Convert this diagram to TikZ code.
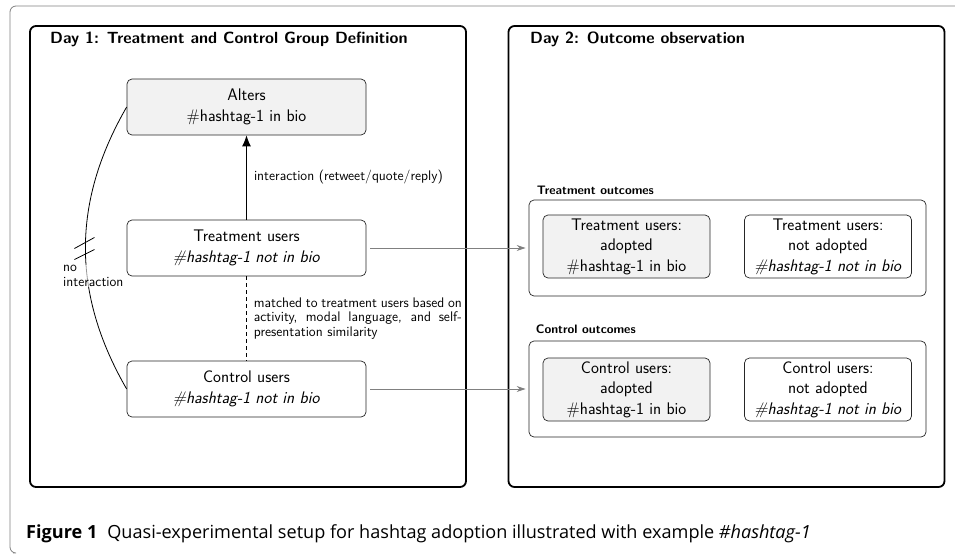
\documentclass[tikz,border=0pt]{standalone}
\usepackage{fontspec}
\newfontfamily\capfont{Open Sans}
\usetikzlibrary{positioning, arrows.meta}
\tikzset{
x=1pt, y=1pt, % one unit is one point
>={Stealth[length=9pt,width=6pt]}, % arrow heads of the grey links
node distance=141pt, % vertical step between the rows
box/.style={draw=black!85, line width=0.7pt, rounded corners=5pt, align=center, minimum width=239pt, minimum height=56pt, inner sep=0pt, font=\sffamily\fontsize{16.8}{20.5}\selectfont}, % user groups on day 1
res/.style={box, minimum width=167pt, minimum height=63pt}, % outcome boxes on day 2
grp/.style={draw=black!85, line width=0.7pt, rounded corners=5pt, minimum width=397pt, minimum height=96pt}, % frame round the outcomes
panel/.style={draw, line width=1.8pt, rounded corners=6pt, minimum width=436pt, minimum height=461pt}, % one panel per day
title/.style={anchor=base west, inner sep=0pt, font=\sffamily\bfseries\fontsize{16.2}{18}\selectfont}, % panel titles
grplabel/.style={anchor=base west, inner sep=0pt, font=\sffamily\bfseries\fontsize{12.3}{14}\selectfont}, % outcome frame titles
note/.style={inner sep=0pt, font=\sffamily\fontsize{13.9}{14.6}\selectfont}, % edge labels
link/.style={->, draw=gray, line width=0.9pt, shorten <=4pt, shorten >=3pt}, % day 1 to day 2
}

\begin{document}
\begin{tikzpicture}
            \useasboundingbox (0,0) rectangle (955,-555);
            \draw[gray, line width=0.8pt, rounded corners=6pt] (955,-6) -- (10,-6) -- (10,-553) -- (13,-553);
            % panels
            \node[panel] (day1) at (248,-256.5) {};
            \node[panel] (day2) at (726.5,-256.5) {};
            \node[title] (t1) at (50,-43) {Day 1: Treatment and Control Group Definition};
            \node[title] (t2) at (530,-43) {Day 2: Outcome observation};
            % day 1
            \node[box, fill=gray!10] (alt) at (246.5,-107) {Alters\\\#hashtag-1 in bio};
            \node[box, below of=alt] (tr) {Treatment users\\\textit{\#hashtag-1 not in bio}};
            \node[box, below of=tr] (ctl) {Control users\\\textit{\#hashtag-1 not in bio}};
            % day 2
            \node[grp] (tout) at (727.5,-248) {};
            \node[grp, below of=tout] (cout) {};
            \node[grplabel] (toutl) at ([xshift=8pt,yshift=5pt]tout.north west) {Treatment outcomes};
            \node[grplabel] (coutl) at ([xshift=7pt,yshift=7pt]cout.north west) {Control outcomes};
            \node[res, fill=gray!10] (ta) at (626.5,-246.5) {Treatment users:\\adopted\\\#hashtag-1 in bio};
            \node[res, right of=ta, node distance=201.5pt] (tna) {Treatment users:\\not adopted\\\textit{\#hashtag-1 not in bio}};
            \node[res, fill=gray!10, below of=ta, node distance=143pt] (ca) {Control users:\\adopted\\\#hashtag-1 in bio};
            \node[res, right of=ca, node distance=201.5pt] (cna) {Control users:\\not adopted\\\textit{\#hashtag-1 not in bio}};
            % links
            \draw[-{Latex[length=11pt,width=9pt]}, line width=1pt] (tr) -- node[note, right=7pt] (intl) {interaction (retweet/quote/reply)} (alt);
            \draw[line width=0.8pt, dash pattern=on 4pt off 3pt] (tr) -- node[note, right=7pt, text width=208pt, align=justify] (matl) {matched to treatment users based on activity, modal language, and self-presentation similarity} (ctl);
            \draw[line width=0.8pt] (alt.west) to[bend right=30] coordinate[pos=0.5] (cut) (ctl.west);
            \draw[line width=0.8pt] ([shift={(-11,-0.5)}]cut) -- ++(20,11);
            \draw[line width=0.8pt] ([shift={(-11,-11.5)}]cut) -- ++(20,10);
            \node[note, anchor=west, align=left, fill=white, fill opacity=0.6, text opacity=1] (nol) at (63,-276) {no\\interaction};
            \draw[link] (tr) -- (tout);
            \draw[link] (ctl) -- (cout);
            % caption
            \node[anchor=base west, inner sep=0pt, font=\capfont\fontsize{18.1}{20}\selectfont] (cap) at (26,-538) {\textbf{Figure 1}\hspace{10pt}Quasi-experimental setup for hashtag adoption illustrated with example \textit{\#hashtag-1}};
\end{tikzpicture}
\end{document}
